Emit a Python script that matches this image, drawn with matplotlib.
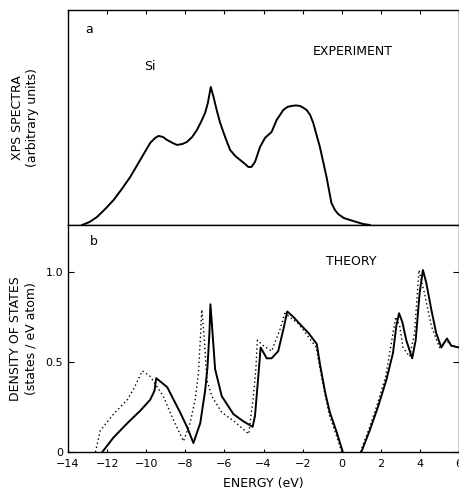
import matplotlib.pyplot as plt

# Widmo XPS (eksperyment) - energia [eV] i wysokosc w jednostkach umownych
xps_e = [-13.28, -12.9, -12.52, -12.1, -11.67, -11.25, -10.82, -10.31, -9.8, -9.55,
         -9.37, -9.15, -8.94, -8.65, -8.43, -8.15, -7.92, -7.65, -7.41, -7.2,
         -6.99, -6.85, -6.7, -6.56, -6.4, -6.22, -5.95, -5.71, -5.45, -5.2,
         -4.95, -4.78, -4.62, -4.44, -4.18, -3.93, -3.59, -3.33, -2.99, -2.78,
         -2.57, -2.35, -2.14, -1.95, -1.8, -1.62, -1.46, -1.12, -0.78, -0.53,
         -0.35, -0.19, 0.1, 0.41, 0.75, 1.09, 1.43]
xps_h = [0, 3, 8, 16, 25, 36, 48, 65, 82, 87,
         89, 88, 85, 82, 80, 81, 83, 88, 95, 103,
         112, 122, 138, 128, 115, 102, 87, 75, 69, 65,
         61, 58, 58, 63, 78, 87, 93, 105, 115, 118,
         119, 119.5, 119, 117, 115, 110, 102, 78, 48, 22,
         15, 11, 7, 5, 3, 1, 0]

# Gestosc stanow - linia ciagla (pasmo walencyjne i przewodnictwa)
dos_e1 = [-12.25, -11.68, -10.97, -10.3, -9.8, -9.58, -9.49, -8.93, -8.27, -7.92,
          -7.59, -7.24, -6.99, -6.87, -6.77, -6.72, -6.65, -6.48, -6.14, -5.54,
          -5.03, -4.56, -4.44, -4.27, -4.15, -3.84, -3.59, -3.25, -2.99, -2.79,
          -2.48, -2.14, -1.7, -1.28, -1.12, -0.85, -0.61, -0.26, 0.05]
dos_v1 = [0.0, 0.08, 0.16, 0.23, 0.29, 0.34, 0.41, 0.36, 0.22, 0.14,
          0.05, 0.16, 0.34, 0.47, 0.66, 0.82, 0.72, 0.46, 0.31, 0.21,
          0.17, 0.14, 0.20, 0.42, 0.58, 0.52, 0.52, 0.56, 0.68, 0.78,
          0.75, 0.71, 0.66, 0.60, 0.49, 0.33, 0.22, 0.11, 0.0]
dos_e2 = [1.0, 1.43, 1.85, 2.28, 2.62, 2.79, 2.93, 3.1, 3.3, 3.6,
          3.78, 3.98, 4.15, 4.32, 4.58, 4.83, 5.09, 5.38, 5.6, 6.0]
dos_v2 = [0.0, 0.12, 0.25, 0.40, 0.55, 0.70, 0.77, 0.72, 0.62, 0.52,
          0.62, 0.88, 1.01, 0.94, 0.79, 0.66, 0.58, 0.63, 0.59, 0.58]

# Gestosc stanow - linia kropkowana
dot_e1 = [-12.6, -12.35, -11.68, -10.97, -10.65, -10.2, -9.8, -9.13, -8.62, -8.1,
          -7.76, -7.5, -7.33, -7.24, -7.16, -7.04, -6.9, -6.65, -6.14, -5.5,
          -4.76, -4.52, -4.39, -4.32, -4.01, -3.59, -3.16, -2.91, -2.2, -1.3,
          -1.15, -0.65, -0.3, 0.0]
dot_v1 = [0.0, 0.12, 0.21, 0.29, 0.35, 0.45, 0.42, 0.31, 0.18, 0.06,
          0.16, 0.29, 0.44, 0.62, 0.79, 0.64, 0.40, 0.31, 0.22, 0.17,
          0.10, 0.31, 0.47, 0.62, 0.59, 0.56, 0.68, 0.77, 0.71, 0.58,
          0.48, 0.21, 0.10, 0.0]
dot_e2 = [0.95, 1.4, 1.8, 2.25, 2.62, 2.76, 2.96, 3.13, 3.47, 3.72,
          3.95, 4.23, 4.58, 5.0, 5.35, 5.6, 6.0]
dot_v2 = [0.0, 0.13, 0.26, 0.42, 0.66, 0.75, 0.70, 0.58, 0.53, 0.66,
          1.01, 0.88, 0.70, 0.58, 0.62, 0.59, 0.58]

xticks = [-14, -12, -10, -8, -6, -4, -2, 0, 2, 4, 6]
xtick_labels = ['\u221214', '\u221212', '\u221210', '\u22128', '\u22126', '\u22124',
                '\u22122', '0', '2', '4', '6']
yticks = [0, 0.5, 1.0]
ytick_labels = ['0', '0.5', '1.0']

plt.rcParams['font.family'] = ['DejaVu Sans']
fig = plt.figure(figsize=(4.6, 4.91), dpi=100)
ax1 = fig.add_axes([0.148, 0.5418, 0.85, 0.438])
ax2 = fig.add_axes([0.148, 0.0794, 0.85, 0.4624])

# Panel a - eksperyment
ax1.plot(xps_e, xps_h, color='black', lw=1.4)
ax1.set_xlim(-14, 6)
ax1.set_ylim(0, 215)
ax1.set_yticks([])
ax1.set_xticks(xticks)
ax1.tick_params(axis='x', direction='in', top=True, bottom=False,
                labelbottom=False, length=3, width=0.8)
ax1.set_ylabel('XPS SPECTRA\n(arbitrary units)', fontsize=9, labelpad=21)
ax1.text(-13.1, 192, 'a', fontsize=9)
ax1.text(-1.5, 170, 'EXPERIMENT', fontsize=9)
ax1.text(-10.1, 155, 'Si', fontsize=9)

# Panel b - teoria
ax2.plot(dos_e1, dos_v1, color='black', lw=1.4)
ax2.plot(dos_e2, dos_v2, color='black', lw=1.4)
ax2.plot(dot_e1, dot_v1, color='black', lw=1.0, ls=(0, (1, 2)))
ax2.plot(dot_e2, dot_v2, color='black', lw=1.0, ls=(0, (1, 2)))
ax2.set_xlim(-14, 6)
ax2.set_ylim(0, 1.26)
ax2.set_xticks(xticks)
ax2.set_xticklabels(xtick_labels, fontsize=8)
ax2.set_yticks(yticks)
ax2.set_yticklabels(ytick_labels, fontsize=8)
ax2.tick_params(axis='x', direction='in', length=2, width=0.8, pad=5)
ax2.tick_params(axis='y', direction='in', right=True, length=4, width=0.8)
ax2.set_xlabel('ENERGY (eV)', fontsize=9, labelpad=6)
ax2.set_ylabel('DENSITY OF STATES\n(states / eV atom)', fontsize=9, labelpad=6)
ax2.text(-12.9, 1.15, 'b', fontsize=9)
ax2.text(-0.8, 1.04, 'THEORY', fontsize=9)

for ax in (ax1, ax2):
    for s in ax.spines.values():
        s.set_linewidth(1.0)

fig.savefig('out.png', dpi=100)
